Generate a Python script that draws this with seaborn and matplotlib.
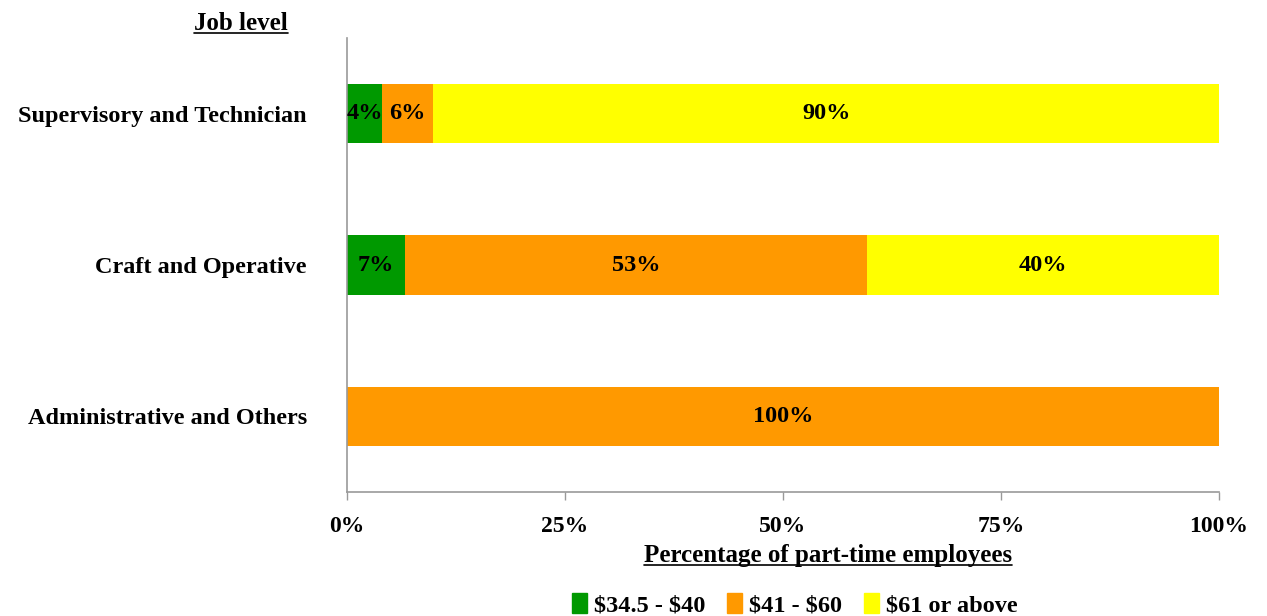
import matplotlib
matplotlib.use("Agg")
import matplotlib.pyplot as plt
from matplotlib.lines import Line2D
import numpy as np
import pandas as pd
import seaborn as sns

categories = ["Supervisory and Technician", "Craft and Operative", "Administrative and Others"]
series_names = [r"\$34.5 - \$40", r"\$41 - \$60", r"\$61 or above"]
low_band = [4.0, 6.7, 0.0]
mid_band = [5.9, 52.9, 100.0]
high_band = [90.1, 40.4, 0.0]
x_ticks = [0, 25, 50, 75, 100]
x_tick_labels = ["0%", "25%", "50%", "75%", "100%"]
colors = ["#009900", "#FF9900", "#FFFF00"]

sns.set_theme(style="white")
plt.rcParams["font.family"] = ["Liberation Serif", "DejaVu Serif"]
plt.rcParams["font.weight"] = "bold"
for key in ["text.color", "axes.labelcolor", "xtick.labelcolor", "ytick.labelcolor"]:
    plt.rcParams[key] = "black"

fig = plt.figure(figsize=(12.67, 6.16), dpi=100)
ax = fig.add_axes([0.2739, 0.2013, 0.6882, 0.7370])

bands = [low_band, mid_band, high_band]
cum = np.cumsum(np.array(bands), axis=0)

# Stacked bars: draw cumulative totals from the widest down so each segment shows
for i in reversed(range(3)):
    df = pd.DataFrame({"category": categories, "value": cum[i]})
    sns.barplot(data=df, x="value", y="category", orient="h", color=colors[i],
                width=0.39, saturation=1, ax=ax, edgecolor="none", linewidth=0)

# Segment value labels
for j in range(len(categories)):
    start = 0.0
    for i in range(3):
        v = bands[i][j]
        if v > 0:
            ax.text(start + v / 2, j, f"{round(v):d}%", ha="center", va="center",
                    fontsize=17.5, fontweight="bold", color="black")
        start += v

ax.set_xlim(0, 100)
ax.set_ylim(2.5, -0.5)
ax.set_xticks(x_ticks)
ax.set_xticklabels(x_tick_labels, fontsize=17, fontweight="bold")
ax.tick_params(axis="x", which="both", bottom=True, length=6, width=1,
               color="#999999", labelcolor="black", pad=11)
ax.tick_params(axis="y", left=False, pad=23, labelcolor="black")
for lab in ax.get_yticklabels():
    lab.set_fontsize(17.5)
    lab.set_fontweight("bold")
ax.set_xlabel("")
ax.set_ylabel("")
for side in ["top", "right"]:
    ax.spines[side].set_visible(False)
for side in ["left", "bottom"]:
    ax.spines[side].set_color("#999999")
    ax.spines[side].set_linewidth(1.2)

# Titles for the axes
t_job = fig.text(0.1902, 0.962, "Job level", ha="center", va="center",
                 fontsize=18, fontweight="bold")
t_pct = fig.text(0.6535, 0.099, "Percentage of part-time employees", ha="center",
                 va="center", fontsize=18, fontweight="bold")

# Legend
handles = [plt.Rectangle((0, 0), 1, 1, color=c) for c in colors]
fig.legend(handles, series_names, loc="center", bbox_to_anchor=(0.6275, 0.018),
           ncol=3, frameon=False, handlelength=0.6, handleheight=0.9,
           handletextpad=0.3, columnspacing=0.9, prop={"weight": "bold", "size": 17.5})

# Underline the two titles
fig.canvas.draw()
inv = fig.transFigure.inverted()
for t in (t_job, t_pct):
    bb = t.get_window_extent().transformed(inv)
    fig.add_artist(Line2D([bb.x0, bb.x1], [bb.y0 + 0.003, bb.y0 + 0.003],
                          transform=fig.transFigure, color="black", linewidth=1.2))

fig.savefig("out.png", dpi=100)
